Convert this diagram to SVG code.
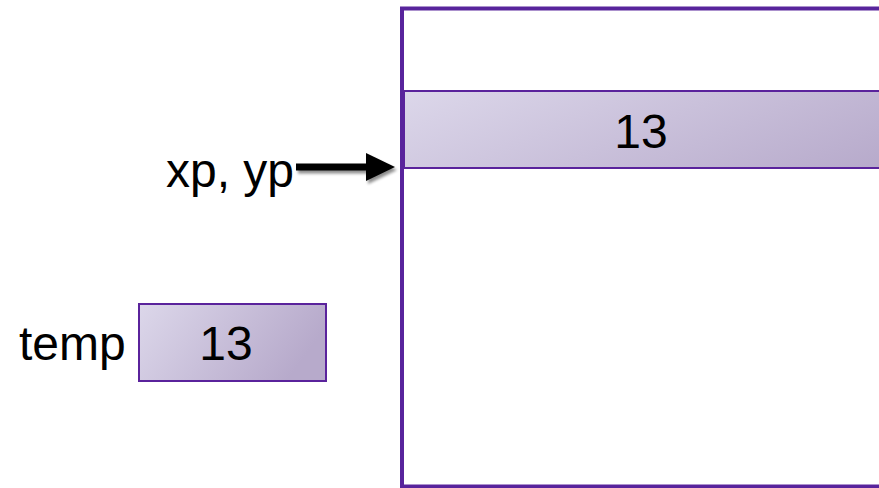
<svg xmlns="http://www.w3.org/2000/svg" width="879" height="488" viewBox="0 0 879 488">
<style>
.lbl{font-family:"Liberation Sans",Arial,sans-serif;font-size:48px;fill:#000}
.cell{stroke:#5a239c;stroke-width:2}
</style>
<defs>
<linearGradient id="g1" x1="0" y1="0" x2="1" y2="0.3">
<stop offset="0" stop-color="#dcd7ea"/>
<stop offset="1" stop-color="#b7aacb"/>
</linearGradient>
<filter id="sh" x="-20%" y="-50%" width="140%" height="200%">
<feGaussianBlur in="SourceAlpha" stdDeviation="1.5"/>
<feOffset dx="2" dy="3" result="b"/>
<feComponentTransfer><feFuncA type="linear" slope="0.45"/></feComponentTransfer>
<feMerge><feMergeNode/><feMergeNode in="SourceGraphic"/></feMerge>
</filter>
</defs>
<rect width="879" height="488" fill="#fff"/>
<g id="memory">
<rect x="402" y="8.5" width="600" height="478" fill="#fff" stroke="#58249c" stroke-width="4"/>
<rect class="cell" x="404" y="91" width="600" height="77" fill="url(#g1)"/>
<text class="lbl" x="641" y="148" text-anchor="middle">13</text>
</g>
<g id="temp">
<text class="lbl" x="19" y="360">temp</text>
<rect class="cell" x="139" y="304" width="187" height="77" fill="url(#g1)"/>
<text class="lbl" x="226" y="360" text-anchor="middle">13</text>
</g>
<g id="ptr">
<text class="lbl" x="166" y="187">xp, yp</text>
</g>
<g id="connectors">
<g filter="url(#sh)">
<line x1="296" y1="167" x2="368" y2="167" stroke="#000" stroke-width="7"/>
<polygon points="366,153 395,167 366,181" fill="#000"/>
</g>
</g>
</svg>
